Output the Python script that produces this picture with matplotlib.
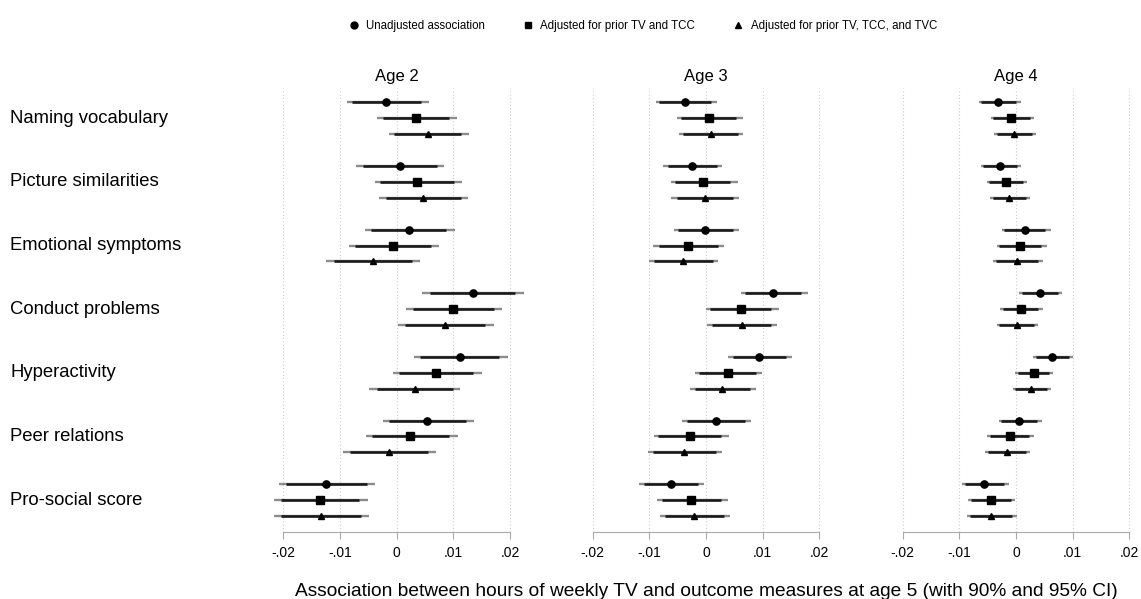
import numpy as np
import matplotlib
matplotlib.use('Agg')
import matplotlib.pyplot as plt
import matplotlib.transforms as mtransforms
from matplotlib.lines import Line2D

plt.rcParams['font.family'] = ['Liberation Sans', 'DejaVu Sans']

# Resultados (en unidades de 0.001); orden: sin ajustar, TV+TCC, TV+TCC+TVC
resultados = ['Naming vocabulary', 'Picture similarities', 'Emotional symptoms',
              'Conduct problems', 'Hyperactivity', 'Peer relations', 'Pro-social score']
edades = ['Age 2', 'Age 3', 'Age 4']
series = ['Unadjusted association', 'Adjusted for prior TV and TCC',
          'Adjusted for prior TV, TCC, and TVC']

age2_est = [-1.8, 3.4, 5.5, 0.6, 3.6, 4.7, 2.1, -0.7, -4.2, 13.4, 10.0, 8.5,
            11.1, 6.9, 3.2, 5.4, 2.4, -1.4, -12.4, -13.5, -13.4]
age2_lo = [-8.8, -3.4, -1.4, -7.1, -3.9, -3.2, -5.6, -8.5, -12.4, 4.5, 1.6, 0.2,
           3.1, -0.6, -4.8, -2.5, -5.5, -9.5, -20.7, -21.6, -21.6]
age2_hi = [5.7, 10.6, 12.7, 8.4, 11.6, 12.6, 10.3, 7.5, 4.1, 22.5, 18.6, 17.1,
           19.6, 15.0, 11.2, 13.7, 10.8, 6.9, -3.8, -5.1, -4.8]

age3_est = [-3.7, 0.5, 0.8, -2.4, -0.6, -0.2, -0.1, -3.1, -4.0, 11.8, 6.1, 6.3,
            9.4, 3.8, 2.9, 1.7, -2.9, -3.8, -6.2, -2.6, -2.1]
age3_lo = [-8.8, -5.1, -4.8, -7.5, -6.1, -6.1, -5.6, -9.3, -10.1, 6.2, 0.0, 0.1,
           3.9, -1.9, -2.9, -4.3, -9.2, -10.2, -11.8, -8.6, -8.2]
age3_hi = [2.0, 6.5, 6.6, 2.9, 5.6, 5.8, 5.9, 3.2, 2.2, 18.0, 12.8, 12.6,
           15.1, 9.9, 8.8, 7.9, 4.1, 2.9, -0.4, 3.8, 4.2]

age4_est = [-3.1, -0.8, -0.3, -2.8, -1.8, -1.2, 1.5, 0.7, 0.2, 4.3, 0.8, 0.1,
            6.4, 3.1, 2.7, 0.5, -1.1, -1.6, -5.6, -4.4, -4.4]
age4_lo = [-6.6, -4.5, -3.9, -6.2, -5.2, -4.6, -2.5, -3.4, -4.0, 0.6, -2.8, -3.4,
           3.0, -0.1, -0.5, -3.0, -5.1, -5.4, -9.5, -8.5, -8.6]
age4_hi = [0.9, 3.1, 3.5, 0.8, 1.9, 2.4, 6.1, 5.4, 4.8, 8.2, 4.7, 3.9,
           10.0, 6.5, 6.2, 4.6, 3.1, 2.5, -1.2, -0.1, 0.1]

ticks = [-0.02, -0.01, 0, 0.01, 0.02]
tick_labels = ['-.02', '-.01', '0', '.01', '.02']

datos = [(age2_est, age2_lo, age2_hi),
         (age3_est, age3_lo, age3_hi),
         (age4_est, age4_lo, age4_hi)]

marcadores = ['o', 's', '^']
tam_marcador = [5.2, 5.2, 4.6]

fig = plt.figure(figsize=(11.41, 5.99), dpi=100)

# posicion de cada fila: 3 filas por resultado y un hueco
y = np.array([g * 4 + i for g in range(len(resultados)) for i in range(3)])

izq = [0.2384, 0.5095, 0.7812]
axes = []
for k, (est, lo, hi) in enumerate(datos):
    ax = fig.add_axes([izq[k], 0.1119, 0.2185, 0.7412])
    axes.append(ax)
    est = np.array(est) / 1000
    lo = np.array(lo) / 1000
    hi = np.array(hi) / 1000
    # IC 90% a partir del IC 95%
    media = (hi - lo) / 2 * 1.645 / 1.96
    lo90 = est - media
    hi90 = est + media

    for t in ticks:
        ax.axvline(t, color='#cccccc', lw=0.8, ls=(0, (1, 2)), zorder=0)

    for j in range(len(y)):
        ax.plot([lo[j], hi[j]], [y[j], y[j]], color='#8c8c8c', lw=1.7,
                solid_capstyle='butt', clip_on=False, zorder=2)
        ax.plot([lo90[j], hi90[j]], [y[j], y[j]], color='#1a1a1a', lw=1.9,
                solid_capstyle='butt', clip_on=False, zorder=3)
        s = j % 3
        ax.plot(est[j], y[j], marker=marcadores[s], color='black',
                markersize=tam_marcador[s], ls='none', zorder=4, clip_on=False)

    ax.set_xlim(-0.022, 0.022)
    ax.set_ylim(27.0, -0.9)
    ax.set_yticks([])
    for lado in ['top', 'right', 'left']:
        ax.spines[lado].set_visible(False)
    ax.spines['bottom'].set_bounds(-0.02, 0.02)
    ax.spines['bottom'].set_color('#aaaaaa')
    ax.set_xticks(ticks)
    ax.set_xticklabels(tick_labels, fontsize=10)
    ax.tick_params(axis='x', color='#aaaaaa', length=5, pad=5)
    ax.set_title(edades[k], fontsize=12, pad=5)

# etiquetas de los resultados
trans = mtransforms.blended_transform_factory(fig.transFigure, axes[0].transData)
for g, nombre in enumerate(resultados):
    fig.text(10 / 1141, g * 4 + 1, nombre, transform=trans, fontsize=13.3,
             va='center', ha='left')

fig.text(706 / 1141, 1 - 591 / 599,
         'Association between hours of weekly TV and outcome measures at age 5 (with 90% and 95% CI)',
         ha='center', va='center', fontsize=13.8)

handles = [Line2D([], [], marker=m, color='black', ls='none', markersize=5)
           for m in marcadores]
fig.legend(handles, series, loc='center', bbox_to_anchor=(0.563, 0.956), ncol=3,
           frameon=False, fontsize=8.3, handletextpad=0.6, columnspacing=3.2,
           handlelength=1.0)

fig.savefig('out.png', dpi=100)
